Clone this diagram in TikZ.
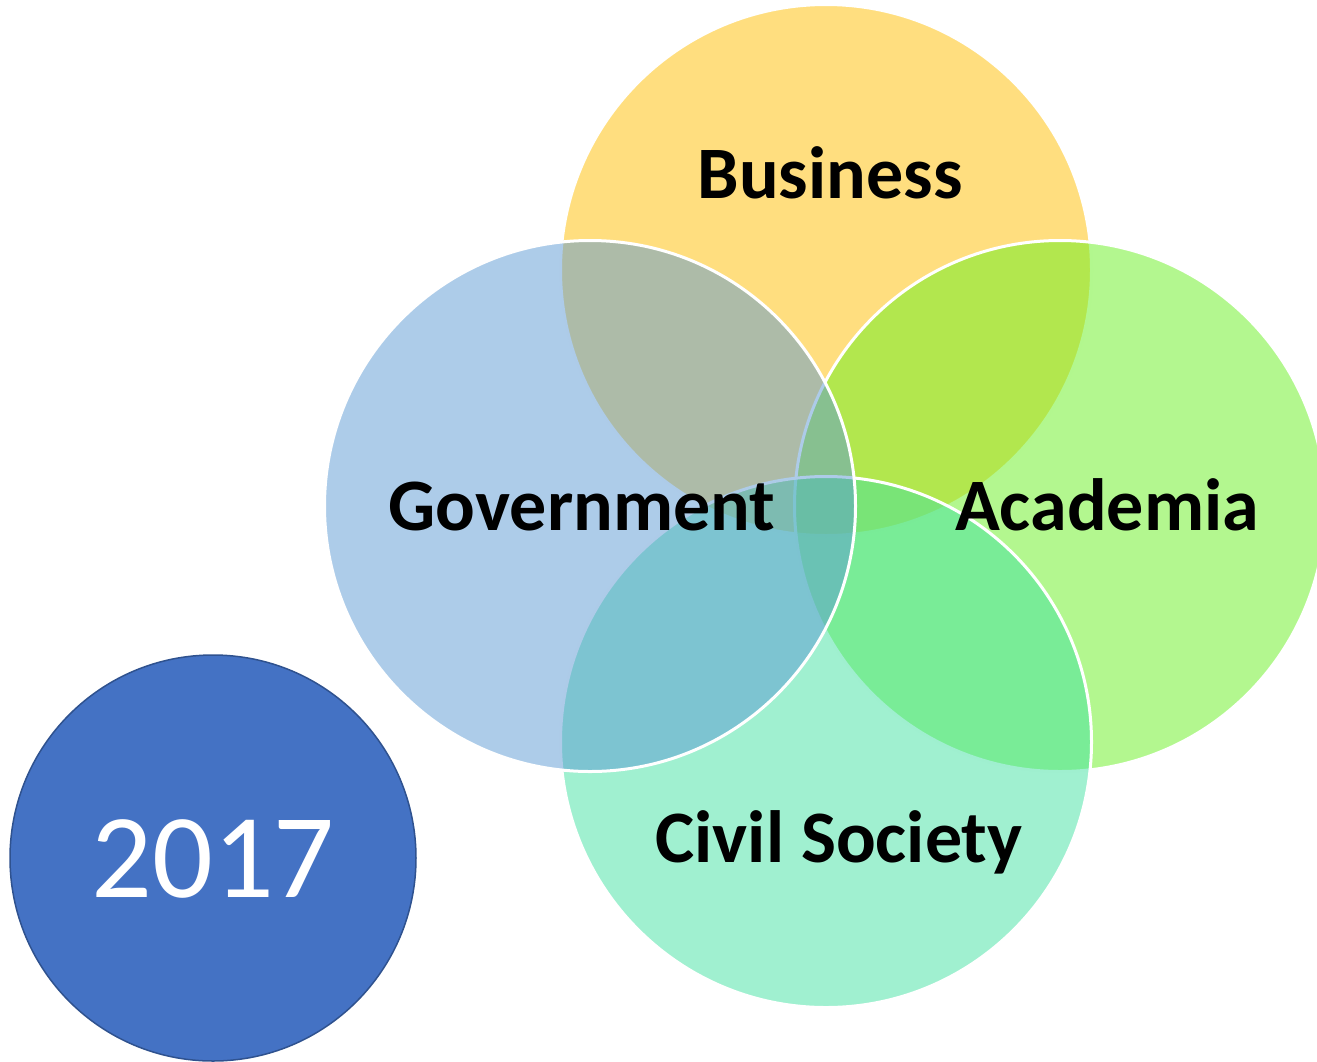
\documentclass[tikz,border=0pt]{standalone}
\usepackage{fontspec}
\setmainfont{Carlito}
\begin{document}
\begin{tikzpicture}[x=1pt,y=-1pt,
  sector/.style={circle, minimum size=531pt, inner sep=0pt, fill opacity=0.5, draw=white, line width=3pt},
  label/.style={font=\bfseries\fontsize{74}{74}\selectfont, text=black, anchor=base, inner sep=0pt}]
  \clip (0,0) rectangle (1317,1061);
  \useasboundingbox (0,0) rectangle (1317,1061);
  \definecolor{busc}{RGB}{255,190,0}
  \definecolor{govc}{RGB}{92,153,211}
  \definecolor{acac}{RGB}{103,240,31}
  \definecolor{civc}{RGB}{65,225,161}
  \definecolor{yearc}{RGB}{68,114,196}
  \definecolor{yearb}{RGB}{47,82,143}
  % overlapping sectors, bottom to top
  \node[sector, fill=busc] (bus) at (826,270) {};
  \node[sector, fill=acac] (aca) at (1060,506) {};
  \node[sector, fill=civc] (civ) at (826,742) {};
  \node[sector, fill=govc] (gov) at (590,506) {};
  % labels
  \node[label] (lbus) at (830,198) {Business};
  \node[label] (lgov) at (582,530) {Government};
  \node[label] (laca) at (1107,530) {Academia};
  \node[label] (lciv) at (839,862) {Civil Society};
  % year badge
  \node[circle, minimum size=406pt, inner sep=0pt, fill=yearc, draw=yearb, line width=1.5pt] (year) at (213,858) {};
  \node[anchor=base, inner sep=0pt, text=white, font=\fontsize{120}{120}\selectfont] (lyear) at (213,897) {2017};
\end{tikzpicture}
\end{document}
